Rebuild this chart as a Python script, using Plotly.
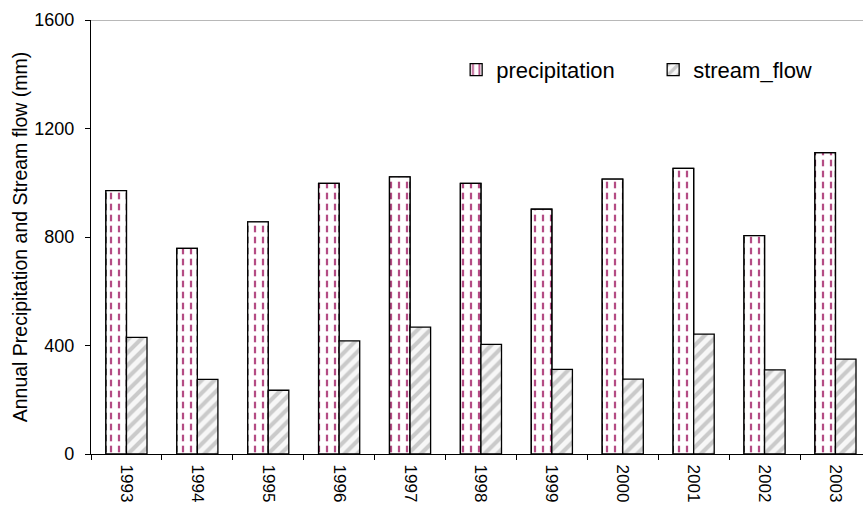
import plotly.graph_objects as go

# Annual totals (mm)
years = [1993, 1994, 1995, 1996, 1997, 1998, 1999, 2000, 2001, 2002, 2003]
precipitation = [971, 758, 856, 998, 1022, 998, 903, 1013, 1053, 805, 1111]
stream_flow = [430, 275, 235, 417, 468, 404, 312, 276, 442, 310, 350]
year_labels = [str(y) for y in years]
y_ticks = [0, 400, 800, 1200, 1600]

FONT = "Liberation Sans, Arial, sans-serif"
BAR_W = 0.29
MAGENTA = "#b44c84"

fig = go.Figure()

# precipitation: white bar with vertical magenta lines
fig.add_trace(go.Bar(
    x=years, y=precipitation, name="precipitation",
    offset=-BAR_W, width=BAR_W,
    marker=dict(
        color="white",
        line=dict(color="black", width=1.3),
        pattern=dict(shape="|", fgcolor=MAGENTA, bgcolor="white",
                     size=8, solidity=0.28, fillmode="replace"),
    ),
))
# white horizontal breaks that turn the magenta lines into dashes
fig.add_trace(go.Bar(
    x=years, y=precipitation, name="precipitation", showlegend=False,
    offset=-BAR_W, width=BAR_W, hoverinfo="skip",
    marker=dict(
        color="rgba(0,0,0,0)",
        line=dict(color="black", width=1.3),
        pattern=dict(shape="-", fgcolor="white", size=11, solidity=0.4,
                     fillmode="replace"),
    ),
))
# stream flow: light grey diagonal hatching
fig.add_trace(go.Bar(
    x=years, y=stream_flow, name="stream_flow",
    offset=0, width=BAR_W,
    marker=dict(
        color="white",
        line=dict(color="black", width=1.3),
        pattern=dict(shape="/", fgcolor="#cacaca", bgcolor="#f7f7f7",
                     size=9, solidity=0.45, fillmode="replace"),
    ),
))

# thin grey frame line along the top of the plot area
fig.add_shape(type="line", xref="paper", yref="y", x0=0, x1=1, y0=1600, y1=1600,
              line=dict(color="#a0a0a0", width=1.3))

fig.update_layout(
    width=863, height=506,
    margin=dict(l=91, r=0, t=20, b=52, autoexpand=False),
    paper_bgcolor="white", plot_bgcolor="white",
    barmode="overlay",
    font=dict(family=FONT, size=18, color="black"),
    showlegend=True,
    legend=dict(
        orientation="h", x=0.473, y=0.885, xanchor="left", yanchor="middle",
        font=dict(family=FONT, size=22, color="black"),
        bgcolor="rgba(0,0,0,0)", itemwidth=30, entrywidth=152,
    ),
    xaxis=dict(
        range=[1992.5, 1992.5 + 772 / 70.9],
        tickmode="array", tickvals=years, ticktext=year_labels,
        tickangle=90, ticks="", showgrid=False, zeroline=False,
        showline=True, linecolor="black", linewidth=1.3,
        tickfont=dict(family=FONT, size=17, color="black"),
        ticklabelstandoff=6,
        minor=dict(tick0=1992.5, dtick=1, ticks="outside", ticklen=5,
                   tickcolor="black", tickwidth=1.3, showgrid=False),
    ),
    yaxis=dict(
        range=[0, 1600], tickmode="array", tickvals=y_ticks,
        ticks="outside", ticklen=5, tickcolor="black", tickwidth=1.3,
        showgrid=False, zeroline=False,
        showline=True, linecolor="black", linewidth=1.3,
        tickfont=dict(family=FONT, size=18, color="black"),
        ticklabelstandoff=7,
        title=dict(text="Annual Precipitation and Stream flow (mm)",
                   font=dict(family=FONT, size=19.5, color="black"), standoff=1),
    ),
)

fig.write_html("out.html")
